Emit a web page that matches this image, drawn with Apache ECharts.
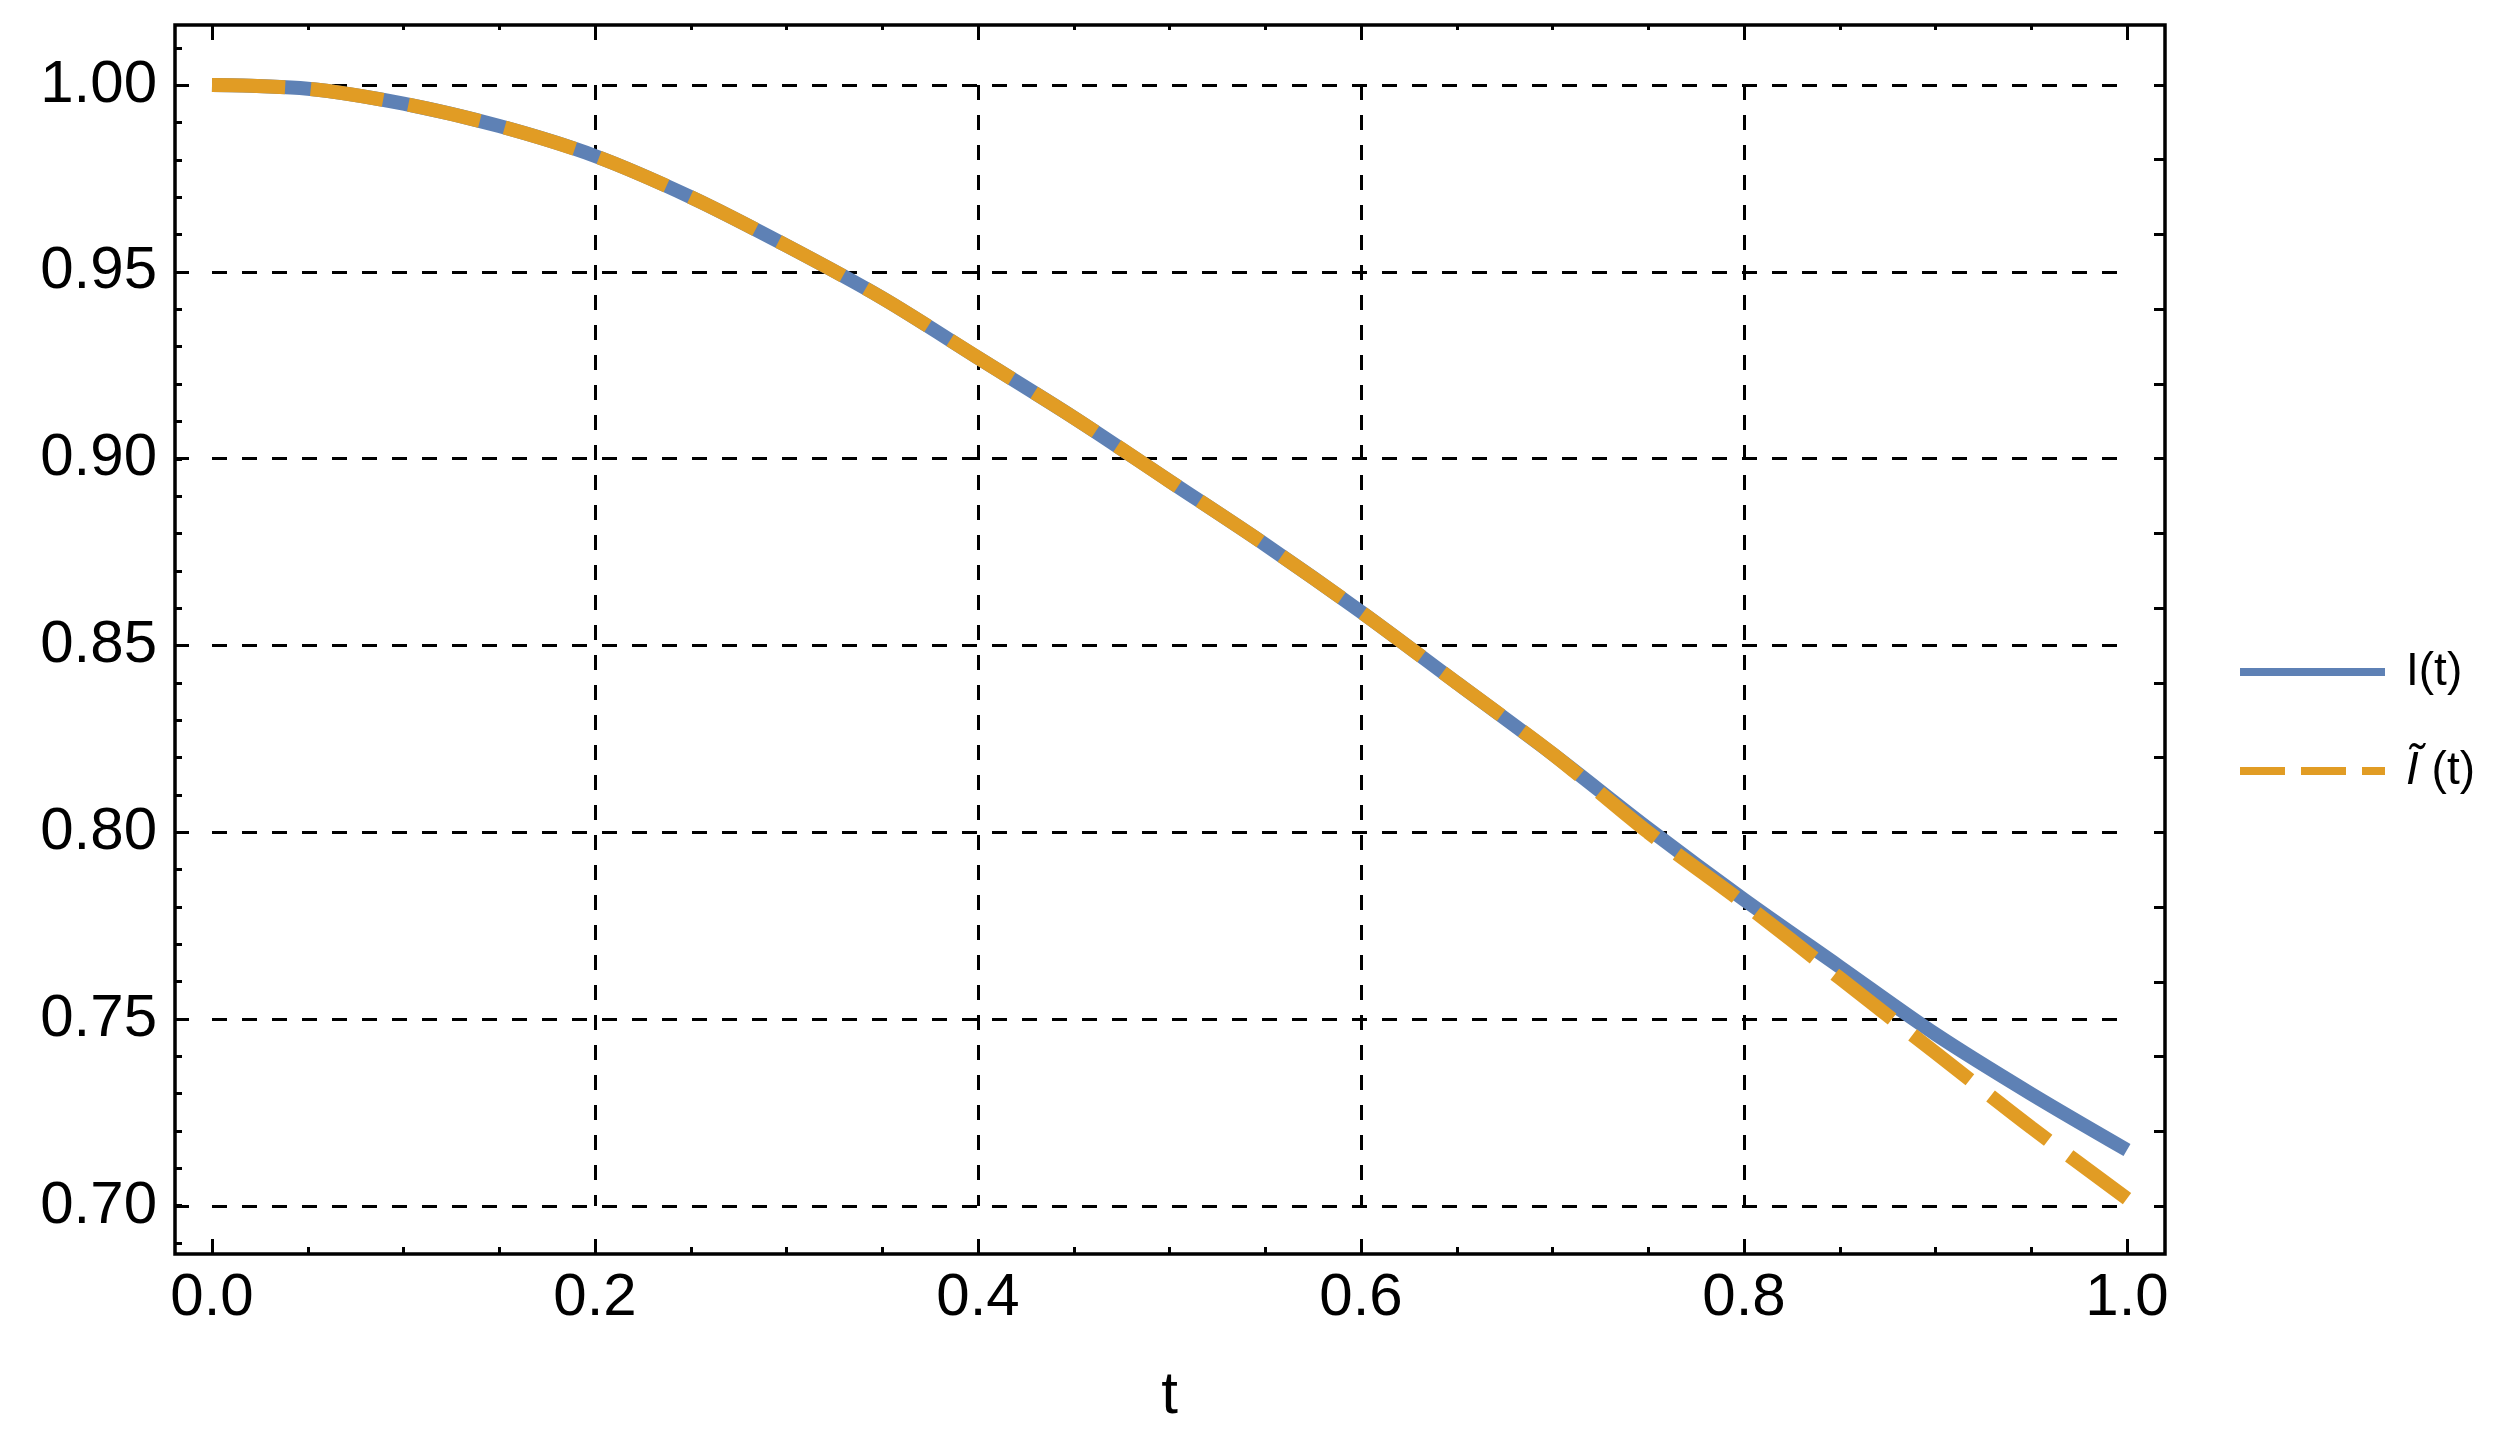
<!DOCTYPE html>
<html>
<head>
<meta charset="utf-8">
<script src="https://cdn.jsdelivr.net/npm/echarts@6/dist/echarts.min.js"></script>
<style>
  html, body { margin: 0; padding: 0; background: #fff; }
  #chart { width: 2509px; height: 1446px; }
</style>
</head>
<body>
<div id="chart"></div>
<script>
// values
var tValues = [0, 0.05, 0.1, 0.15, 0.2, 0.25, 0.3, 0.35, 0.4, 0.45, 0.5,
  0.55, 0.6, 0.65, 0.7, 0.75, 0.8, 0.85, 0.9, 0.95, 1.0];
var exactValues = [1.000, 0.999, 0.995, 0.989, 0.981, 0.970, 0.957, 0.943, 0.927, 0.911, 0.894,
  0.877, 0.859, 0.840, 0.821, 0.801, 0.782, 0.764, 0.746, 0.730, 0.715];
var approxValues = [1.000, 0.999, 0.995, 0.989, 0.981, 0.970, 0.957, 0.943, 0.927, 0.911, 0.894,
  0.877, 0.859, 0.840, 0.821, 0.800, 0.781, 0.761, 0.741, 0.721, 0.702];
var seriesNames = ['I(t)', '\u0128(t)'];
var xTicks = [0, 0.2, 0.4, 0.6, 0.8, 1.0];
var yTicks = [0.70, 0.75, 0.80, 0.85, 0.90, 0.95, 1.00];

var BLUE = '#5E81B5';
var ORANGE = '#E19C24';
var FONT = 'Liberation Sans';

function pairs(xs, ys) {
  var out = [];
  for (var i = 0; i < xs.length; i++) out.push([xs[i], ys[i]]);
  return out;
}

var chart = echarts.init(document.getElementById('chart'));

var tickStyle = { color: '#000', width: 3 };
var noLine = { show: false, onZero: false };

var option = {
  animation: false,
  backgroundColor: '#fff',
  grid: [
    // main data area
    { left: 212, right: 382, top: 85, bottom: 240 },
    // minor y ticks incl. 0.69 and 1.01
    { left: 212, right: 382, top: 48, bottom: 203 },
    // frame
    { left: 175, right: 344, top: 25, bottom: 192, show: true,
      borderColor: '#000', borderWidth: 3.5, backgroundColor: 'transparent' }
  ],
  xAxis: [
    {
      type: 'value', gridIndex: 0, position: 'bottom', offset: 48,
      min: xTicks[0], max: xTicks[xTicks.length - 1], interval: 0.2,
      axisLine: noLine,
      axisTick: { show: true, inside: true, length: 15, lineStyle: tickStyle },
      minorTick: { show: true, splitNumber: 4, length: 7, lineStyle: tickStyle },
      axisLabel: { show: true, margin: 14, color: '#000', fontSize: 60, fontFamily: FONT,
        formatter: function (v) { return v.toFixed(1); } },
      splitLine: { show: true, showMinLine: false, showMaxLine: false,
        lineStyle: { color: '#000', width: 3, type: [15, 15] } },
      name: 't', nameLocation: 'middle', nameGap: 112,
      nameTextStyle: { color: '#000', fontSize: 60, fontFamily: FONT }
    },
    {
      type: 'value', gridIndex: 0, position: 'top', offset: 60,
      min: 0, max: 1, interval: 0.2,
      axisLine: noLine,
      axisTick: { show: true, inside: true, length: 15, lineStyle: tickStyle },
      minorTick: { show: true, splitNumber: 4, length: 5, lineStyle: tickStyle },
      axisLabel: { show: false },
      splitLine: { show: false }
    },
    { type: 'value', gridIndex: 1, min: 0, max: 1, show: false, axisLine: noLine },
    { type: 'value', gridIndex: 2, min: 0, max: 1, show: false, axisLine: noLine }
  ],
  yAxis: [
    {
      type: 'value', gridIndex: 0, position: 'left', offset: 37,
      min: yTicks[0], max: yTicks[yTicks.length - 1], interval: 0.05,
      axisLine: noLine,
      axisTick: { show: true, inside: true, length: 14, lineStyle: tickStyle },
      axisLabel: { show: true, margin: 18, color: '#000', fontSize: 60, fontFamily: FONT,
        formatter: function (v) { return v.toFixed(2); } },
      splitLine: { show: true, lineStyle: { color: '#000', width: 3, type: [15, 15] } }
    },
    {
      type: 'value', gridIndex: 0, position: 'right', offset: 38,
      min: 0.7, max: 1.0, interval: 0.02,
      axisLine: noLine,
      axisTick: { show: true, inside: true, length: 11, lineStyle: tickStyle },
      axisLabel: { show: false },
      splitLine: { show: false }
    },
    {
      type: 'value', gridIndex: 1, position: 'left', offset: 37,
      min: 0.69, max: 1.01, interval: 0.01,
      axisLine: noLine,
      axisTick: { show: true, inside: true, length: 7, lineStyle: tickStyle },
      axisLabel: { show: false },
      splitLine: { show: false }
    },
    { type: 'value', gridIndex: 2, min: 0, max: 1, show: false, axisLine: noLine }
  ],
  legend: {
    orient: 'vertical',
    left: 2231, top: 644,
    itemWidth: 145, itemHeight: 20, itemGap: 53,
    textStyle: {
      color: '#000', fontSize: 46, fontFamily: FONT, padding: [0, 0, 0, 16],
      rich: {
        i: { fontSize: 46, fontFamily: FONT, fontStyle: 'italic', color: '#000' },
        n: { fontSize: 46, fontFamily: FONT, color: '#000' }
      }
    },
    formatter: function (name) {
      if (name === seriesNames[1]) return '{i|\u0128} {n|(t)}';
      return name;
    },
    data: [
      { name: seriesNames[0], itemStyle: { opacity: 0 }, lineStyle: { width: 8, type: 'solid' } },
      { name: seriesNames[1], itemStyle: { opacity: 0 }, lineStyle: { width: 8, type: [45, 16] } }
    ]
  },
  series: [
    {
      name: seriesNames[0], type: 'line', xAxisIndex: 0, yAxisIndex: 0,
      data: pairs(tValues, exactValues),
      smooth: 0.3, symbol: 'none', showSymbol: false, clip: false,
      lineStyle: { color: BLUE, width: 14 }, itemStyle: { color: BLUE }
    },
    {
      name: seriesNames[1], type: 'line', xAxisIndex: 0, yAxisIndex: 0,
      data: pairs(tValues, approxValues),
      smooth: 0.3, symbol: 'none', showSymbol: false, clip: false,
      lineStyle: { color: ORANGE, width: 14, type: [73, 26] }, itemStyle: { color: ORANGE }
    }
  ]
};

chart.setOption(option);
</script>
</body>
</html>
